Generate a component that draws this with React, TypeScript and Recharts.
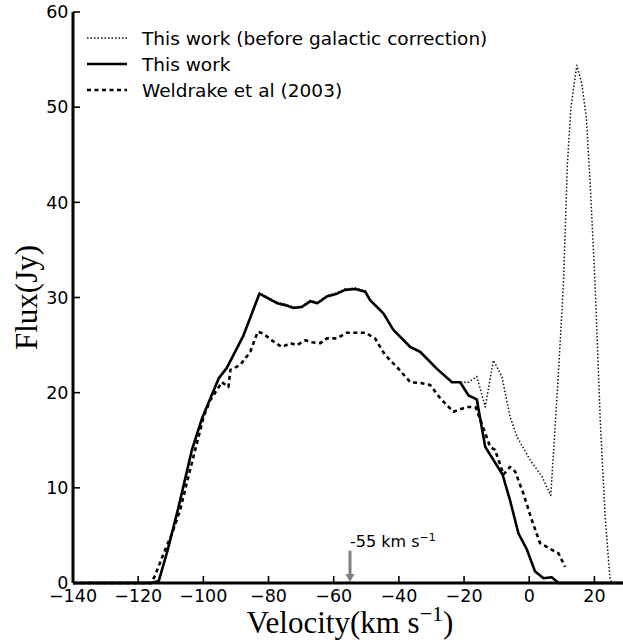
import { LineChart, Line, XAxis, YAxis, ReferenceLine, Legend } from "recharts";

const xTicks = [-140, -120, -100, -80, -60, -40, -20, 0, 20];
const yTicks = [0, 10, 20, 30, 40, 50, 60];

// "This work" (after galactic correction)
const workVel = [-140, -116, -113.7, -111, -107.6, -103.5, -100.4, -95.3, -92.8, -87.7, -82.8, -77.4, -74.9, -72.3, -69.8, -67.2, -65.0, -62.1, -59.0, -56.5, -53.4, -50.3, -48.8, -46.7, -44.7, -41.7, -36.5, -33.5, -28.3, -23.7, -21.2, -18.6, -16.1, -13.5, -8.2, -5.9, -3.3, -0.7, 1.8, 4.4, 6.9, 9.0, 30];
const workFlux = [0, 0, 0.2, 3.4, 8.0, 14.0, 17.3, 21.5, 22.6, 26.0, 30.4, 29.4, 29.2, 28.9, 29.0, 29.6, 29.4, 30.1, 30.4, 30.8, 30.9, 30.6, 29.7, 29.0, 28.3, 26.6, 24.8, 24.3, 22.5, 21.1, 21.1, 19.7, 19.3, 14.3, 11.4, 8.7, 5.2, 3.5, 1.2, 0.5, 0.6, 0, 0];

// "This work (before galactic correction)"
const beforeVel = [-140, -116, -113.7, -111, -107.6, -103.5, -100.4, -95.3, -92.8, -87.7, -82.8, -77.4, -74.9, -72.3, -69.8, -67.2, -65.0, -62.1, -59.0, -56.5, -53.4, -50.3, -48.8, -46.7, -44.7, -41.7, -36.5, -33.5, -28.3, -23.7, -21.2, -18.6, -16.1, -13.5, -11.0, -8.4, -5.9, -3.8, 0.3, 3.9, 6.6, 7.6, 9.2, 10.5, 11.7, 12.8, 14.6, 16.1, 17.5, 18.7, 20.2, 21.8, 23.3, 24.8, 25.5, 30];
const beforeFlux = [0, 0, 0.2, 3.4, 8.0, 14.0, 17.3, 21.5, 22.6, 26.0, 30.5, 29.5, 29.3, 29.0, 29.1, 29.7, 29.5, 30.2, 30.5, 30.9, 31.0, 30.7, 29.8, 29.0, 28.3, 26.6, 24.8, 24.3, 22.5, 21.1, 21.1, 21.1, 21.7, 18.5, 23.4, 21.7, 17.5, 15.4, 12.9, 11.2, 9.2, 14.5, 23.5, 31.5, 44.0, 50.0, 54.4, 52.5, 49.0, 42.0, 31.5, 17.0, 7.0, 0.3, 0, 0];

// Weldrake et al (2003)
const weldVel = [-140, -116, -114.8, -112.2, -109.6, -107.1, -104.0, -101.0, -99.9, -97.9, -94.3, -92.3, -91.7, -88.7, -85.6, -83.3, -81.5, -79.0, -75.9, -73.3, -71.3, -68.7, -66.7, -64.1, -62.1, -59.0, -56.0, -53.4, -50.3, -47.3, -44.7, -42.7, -40.6, -36.5, -33.0, -30.4, -27.3, -23.3, -19.1, -16.5, -14.3, -12.0, -10.5, -7.9, -5.9, -4.3, -1.8, 0.8, 3.3, 6.4, 9.0, 11.0];
const weldFlux = [0, 0, 0.8, 3.1, 5.2, 7.7, 12.0, 16.0, 17.5, 19.2, 21.1, 20.6, 22.4, 22.9, 24.3, 26.4, 26.2, 25.5, 24.8, 25.2, 25.0, 25.5, 25.3, 25.2, 25.7, 25.7, 26.3, 26.3, 26.3, 25.7, 24.2, 23.4, 22.7, 21.1, 21.0, 20.8, 19.4, 18.0, 18.5, 18.5, 16.5, 14.3, 14.0, 11.4, 12.2, 11.7, 9.4, 6.6, 4.2, 3.6, 3.1, 1.7];

const markerVel = -55;
const markerLabel = "-55 km s";

const toPoints = (vel: number[], flux: number[]) => vel.map((v, i) => ({ v, f: flux[i] }));

const series = [
  { name: "This work (before galactic correction)", data: toPoints(beforeVel, beforeFlux), width: 1.5, dash: "1.5 2", color: "#111" },
  { name: "This work", data: toPoints(workVel, workFlux), width: 2.6, dash: undefined, color: "#000" },
  { name: "Weldrake et al (2003)", data: toPoints(weldVel, weldFlux), width: 2.6, dash: "4 3.5", color: "#000" },
];

const TICK_FONT = "'DejaVu Sans', sans-serif";
const TITLE_FONT = "'Liberation Serif', 'DejaVu Serif', serif";
const fmt = (v: number) => (v < 0 ? "\u2212" + Math.abs(v) : String(v));

const BottomTick = ({ x, y, payload }: any) => (
  <g>
    <line x1={x} y1={y} x2={x} y2={y - 7} stroke="#000" strokeWidth={1.6} />
    <text x={x} y={y + 19} textAnchor="middle" fontFamily={TICK_FONT} fontSize={17.5} fill="#000">
      {fmt(payload.value)}
    </text>
  </g>
);
const TopTick = ({ x, y }: any) => <line x1={x} y1={y} x2={x} y2={y + 7} stroke="#000" strokeWidth={1.6} />;
const LeftTick = ({ x, y, payload }: any) => (
  <g>
    <line x1={x} y1={y} x2={x + 7} y2={y} stroke="#000" strokeWidth={1.6} />
    <text x={x - 4.5} y={y} dy="0.36em" textAnchor="end" fontFamily={TICK_FONT} fontSize={17.5} fill="#000">
      {fmt(payload.value)}
    </text>
  </g>
);
const RightTick = ({ x, y }: any) => <line x1={x} y1={y} x2={x - 7} y2={y} stroke="#000" strokeWidth={1.6} />;

const XTitle = ({ viewBox }: any) => {
  const { x, y, width } = viewBox;
  return (
    <text x={x + width / 2} y={y + 50} textAnchor="middle" fontFamily={TITLE_FONT} fontSize={31} fill="#000">
      Velocity(km s
      <tspan dy={-12} fontSize={22}>{"\u22121"}</tspan>
      <tspan dy={12}>)</tspan>
    </text>
  );
};
const YTitle = ({ viewBox }: any) => {
  const { y, height } = viewBox;
  const cy = y + height / 2;
  return (
    <text x={37} y={cy} transform={`rotate(-90, 37, ${cy})`} textAnchor="middle" fontFamily={TITLE_FONT} fontSize={31} fill="#000">
      Flux(Jy)
    </text>
  );
};

const MarkerArrow = ({ x1, y1, x2, y2 }: any) => (
  <g>
    <line x1={x1} y1={y1} x2={x2} y2={y2 - 8} stroke="#808080" strokeWidth={3} />
    <polygon points={`${x2 - 4.5},${y2 - 9} ${x2 + 4.5},${y2 - 9} ${x2},${y2 - 1}`} fill="#808080" />
    <text x={x1} y={y1 - 4} fontFamily={TICK_FONT} fontSize={16} fill="#000">
      {markerLabel}
      <tspan dy={-6} fontSize={11}>{"\u22121"}</tspan>
    </text>
  </g>
);

const LegendBox = () => (
  <div style={{ fontFamily: TICK_FONT, fontSize: 18.5, color: "#000" }}>
    {series.map((s) => (
      <div key={s.name} style={{ display: "flex", alignItems: "center", height: 26 }}>
        <svg width={42} height={10} style={{ marginRight: 14 }}>
          <line x1={1} y1={5} x2={41} y2={5} stroke={s.color} strokeWidth={s.width} strokeDasharray={s.dash} />
        </svg>
        <span style={{ whiteSpace: "nowrap" }}>{s.name}</span>
      </div>
    ))}
  </div>
);

export default function App() {
  return (
    <div style={{ position: "absolute", left: 0, top: 0, width: 623, height: 642, overflow: "hidden", background: "#fff" }}>
      <LineChart width={640} height={642} margin={{ top: 12, right: 13, bottom: 0, left: 0 }}>
        <XAxis
          dataKey="v"
          type="number"
          domain={[-140, 30]}
          ticks={xTicks}
          allowDataOverflow
          height={59}
          tickSize={0}
          tickMargin={0}
          tickLine={false}
          tick={<BottomTick />}
          axisLine={{ stroke: "#000", strokeWidth: 3 }}
          label={<XTitle />}
        />
        <XAxis
          xAxisId="top"
          orientation="top"
          type="number"
          domain={[-140, 30]}
          ticks={xTicks}
          height={0}
          tickSize={0}
          tickMargin={0}
          tickLine={false}
          tick={<TopTick />}
          axisLine={{ stroke: "#000", strokeWidth: 3 }}
        />
        <YAxis
          type="number"
          domain={[0, 60]}
          ticks={yTicks}
          width={73}
          tickSize={0}
          tickMargin={0}
          tickLine={false}
          tick={<LeftTick />}
          axisLine={{ stroke: "#000", strokeWidth: 3 }}
          label={<YTitle />}
        />
        <YAxis
          yAxisId="right"
          orientation="right"
          type="number"
          domain={[0, 60]}
          ticks={yTicks}
          width={0}
          tickSize={0}
          tickMargin={0}
          tickLine={false}
          tick={<RightTick />}
          axisLine={{ stroke: "#000", strokeWidth: 3 }}
        />
        <Legend
          layout="vertical"
          align="center"
          verticalAlign="middle"
          content={<LegendBox />}
          wrapperStyle={{ position: "absolute", left: 86, top: 25, width: "auto", height: "auto" }}
        />
        {series.map((s) => (
          <Line
            key={s.name}
            data={s.data}
            dataKey="f"
            name={s.name}
            type="linear"
            stroke={s.color}
            strokeWidth={s.width}
            strokeDasharray={s.dash}
            strokeLinejoin="round"
            dot={false}
            activeDot={false}
            isAnimationActive={false}
          />
        ))}
        <ReferenceLine
          segment={[{ x: markerVel, y: 3.4 }, { x: markerVel, y: 0 }]}
          shape={<MarkerArrow />}
        />
      </LineChart>
    </div>
  );
}
